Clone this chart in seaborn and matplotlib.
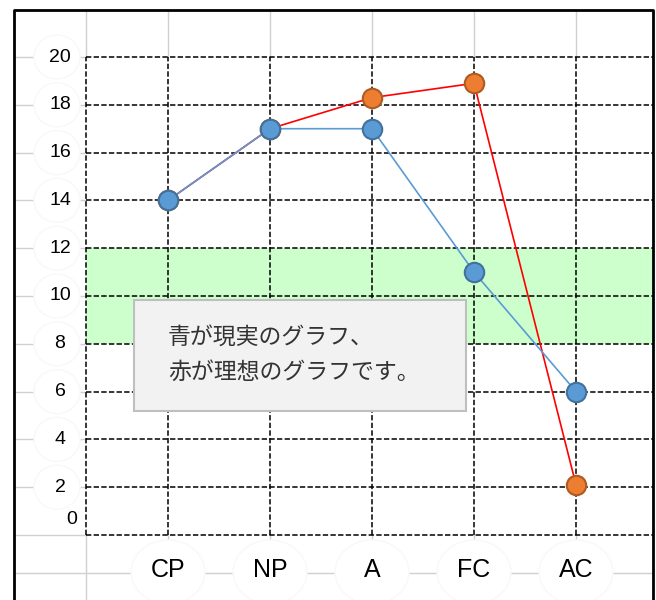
import numpy as np
import matplotlib.pyplot as plt
import seaborn as sns
from matplotlib.patches import Rectangle, Ellipse

# Egogram values
categories = ["CP", "NP", "A", "FC", "AC"]
actual = [14, 17, 17, 11, 6]        # blue = real
ideal = [14, 17, 18.3, 18.9, 2.1]   # red = ideal
y_ticks = [2, 4, 6, 8, 10, 12, 14, 16, 18, 20]
band_low, band_high = 8, 12
note_lines = ["青が現実のグラフ、", "赤が理想のグラフです。"]

sns.set_theme(style="white")
plt.rcParams['font.family'] = ['Liberation Sans', 'DejaVu Sans']
plt.rcParams['text.color'] = 'black'

fig = plt.figure(figsize=(6.56, 6), dpi=100)
ax = fig.add_axes([0, 0, 1, 1])


# pixel -> data helpers for the decorations (CP at 168px, 102px per category,
# y=0 at 535px, 23.9px per unit)
def dx(px):
    return (px - 168) / 102


def dy(py):
    return (535 - py) / 23.9


ax.set_xlim(dx(0), dx(656))
ax.set_ylim(dy(600), dy(0))
ax.set_axis_off()

xs = np.arange(len(categories))
left, right, top, bottom = dx(14), dx(653), dy(10), dy(600)
x_edge = dx(86)
gray = "#d0d0d0"

# light cell lines outside the dashed area
for y in [0] + y_ticks:
    ax.plot([left, x_edge], [y, y], color=gray, lw=1, zorder=1)
for x in [x_edge, *xs]:
    ax.plot([x, x], [20, top], color=gray, lw=1, zorder=1)
    ax.plot([x, x], [bottom, 0], color=gray, lw=1, zorder=1)
ax.plot([left, right], [dy(573)] * 2, color=gray, lw=1, zorder=1)

# green band
ax.add_patch(Rectangle((x_edge, band_low), right - x_edge, band_high - band_low,
                       facecolor="#ccffcc", edgecolor="none", zorder=2))

# dashed grid
dash = (0, (3.5, 1.5))
for y in [0] + y_ticks:
    ax.plot([x_edge, right], [y, y], color="black", lw=1.1, ls=dash, zorder=3)
for x in [x_edge, *xs]:
    ax.plot([x, x], [0, 20], color="black", lw=1.1, ls=dash, zorder=3)

# y labels
for y in y_ticks:
    ax.add_patch(Ellipse((dx(57), y), 46 / 102, 44 / 23.9, facecolor="white",
                         edgecolor="#f8f8f8", lw=1, zorder=2))
    ax.text(dx(60), y, str(y), fontsize=14, ha="center", va="center", zorder=4)
ax.text(dx(72), dy(520), "0", fontsize=14, ha="center", va="center", zorder=4)

# category labels
for x, c in zip(xs, categories):
    ax.add_patch(Ellipse((x, dy(572)), 74 / 102, 64 / 23.9, facecolor="white",
                         edgecolor="#f8f8f8", lw=1, zorder=2))
    ax.text(x, dy(570), c, fontsize=18, ha="center", va="center", zorder=4)

# series
sns.lineplot(x=xs, y=ideal, ax=ax, color="#ff0000", lw=1.2, marker="o",
             markersize=14, markerfacecolor="#ed7d31", markeredgecolor="#ae5a21",
             markeredgewidth=1.5, zorder=6)
sns.lineplot(x=xs, y=actual, ax=ax, color="#5b9bd5", lw=1.2, marker="o",
             markersize=14, markerfacecolor="#5b9bd5", markeredgecolor="#41719c",
             markeredgewidth=1.5, zorder=7)

# note box
ax.add_patch(Rectangle((dx(134), dy(411)), (466 - 134) / 102, (411 - 300) / 23.9,
                       facecolor="#f2f2f2", edgecolor="#bfbfbf", lw=1.5, zorder=8))
for line, py in zip(note_lines, [337, 372]):
    ax.text(dx(168), dy(py), line, fontsize=16.5, ha="left", va="center",
            color="#333333", family=["Noto Sans CJK JP", "DejaVu Sans"], zorder=9)

# outer frame
ax.plot([left, left, right, right], [bottom, top, top, bottom],
        color="black", lw=2, zorder=10)

fig.savefig("out.png", dpi=100)
